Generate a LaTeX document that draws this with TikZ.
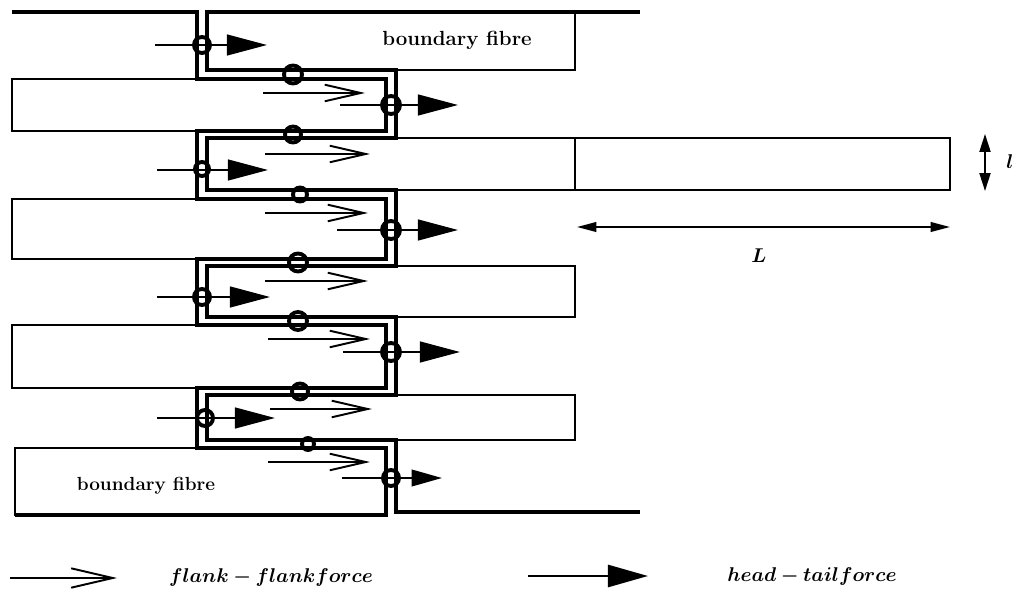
\documentclass[tikz,border=0pt]{standalone}
\usepackage{bm}
\usetikzlibrary{arrows.meta}
\begin{document}
\begin{tikzpicture}[x=0.254mm,y=-0.254mm,
  fibre/.style={line width=1.3pt},
  wall/.style={line width=2.8pt, line join=miter},
  ring/.style={line width=2.8pt},
  httip/.style={-{Triangle[length=29pt,width=15pt]}, line width=1.6pt},
  httipsmall/.style={-{Triangle[length=22pt,width=12pt]}, line width=1.6pt},
  fftip/.style={-{Straight Barb[length=26pt,width=12pt,line width=1.4pt]}, line width=1.3pt},
  dimarrow/.style={{Triangle[length=13pt,width=8pt]}-{Triangle[length=13pt,width=8pt]}, line width=1.3pt},
  labeltext/.style={inner sep=0pt, font=\fontsize{14.8}{17}\selectfont\bfseries},
  labeltextsmall/.style={inner sep=0pt, font=\fontsize{13.7}{16}\selectfont\bfseries},
  mathlabel/.style={inner sep=0pt, font=\fontsize{15}{18}\selectfont}
]
\useasboundingbox (0,0) rectangle (1016,602);

% fibres
\draw[fibre] (207,12) rectangle (575,70);
\draw[fibre] (12,79) rectangle (386,131);
\draw[fibre] (207,138) rectangle (575,190);
\draw[fibre] (575,138) rectangle (950,190);
\draw[fibre] (12,199) rectangle (386,259);
\draw[fibre] (207,266) rectangle (575,317);
\draw[fibre] (12,325) rectangle (386,388);
\draw[fibre] (207,395) rectangle (575,440);
\draw[fibre] (15,448) rectangle (386,515);

% walls of the channel
\draw[wall] (12,12) -- (197,12) -- (197,79) -- (386,79) -- (386,131) -- (197,131)
  -- (197,199) -- (386,199) -- (386,259) -- (197,259) -- (197,325) -- (386,325)
  -- (386,388) -- (197,388) -- (197,448) -- (386,448) -- (386,515) -- (15,515);
\draw[wall] (640,12) -- (207,12) -- (207,70) -- (396,70) -- (396,138) -- (207,138)
  -- (207,190) -- (396,190) -- (396,266) -- (207,266) -- (207,317) -- (396,317)
  -- (396,395) -- (207,395) -- (207,440) -- (396,440) -- (396,512) -- (640,512);

% head-tail forces
\draw[httip] (155,45) -- (267,45);
\draw[httip] (340,105) -- (458,105);
\draw[httip] (157,170) -- (268,170);
\draw[httip] (337,230) -- (458,230);
\draw[httip] (157,297) -- (270,297);
\draw[httip] (343,352) -- (460,352);
\draw[httip] (157,418) -- (275,418);
\draw[httipsmall] (342,478) -- (442,478);

% flank-flank forces
\draw[fftip] (263,93) -- (365,93);
\draw[fftip] (265,154) -- (370,154);
\draw[fftip] (265,213) -- (368,213);
\draw[fftip] (265,281) -- (368,281);
\draw[fftip] (268,339) -- (370,339);
\draw[fftip] (270,409) -- (372,409);
\draw[fftip] (268,462) -- (370,462);

% contact rings
\draw[ring] (202,45) circle[radius=8];
\draw[ring] (293,74.5) circle[radius=9];
\draw[ring] (391,105) circle[radius=9];
\draw[ring] (293,134.5) circle[radius=8];
\draw[ring] (202,169) circle[radius=7];
\draw[ring] (300,194.5) circle[radius=7];
\draw[ring] (391,230) circle[radius=9];
\draw[ring] (298,262.5) circle[radius=9];
\draw[ring] (202,297) circle[radius=8];
\draw[ring] (298,321) circle[radius=9];
\draw[ring] (391,352) circle[radius=9];
\draw[ring] (300,391.5) circle[radius=8];
\draw[ring] (205,418) circle[radius=8];
\draw[ring] (308,444) circle[radius=6];
\draw[ring] (391,478) circle[radius=8];

% labels
\node[labeltext] (bftop) at (457,40) {boundary fibre};
\node[labeltextsmall] (bfbot) at (146,486) {boundary fibre};

% dimensions
\coordinate (ltop) at (985,134);
\coordinate (lbot) at (985,191);
\draw[dimarrow] (ltop) -- (lbot);
\node[mathlabel, anchor=west] (lsmall) at (1006,162) {$\bm{l}$};
\coordinate (Lleft) at (577,227);
\coordinate (Lright) at (950,227);
\draw[{Triangle[length=14pt,width=7pt]}-{Triangle[length=14pt,width=7pt]}, line width=1.3pt] (Lleft) -- (Lright);
\node[mathlabel] (Lbig) at (759,256) {$\bm{L}$};

% legend
\coordinate (ffa) at (10,578);
\coordinate (ffb) at (117,578);
\draw[-{Straight Barb[length=30pt,width=14pt,line width=1.4pt]}, line width=1.4pt] (ffa) -- (ffb);
\node[mathlabel] (fflabel) at (271,578) {$\bm{flank-flankforce}$};
\coordinate (hta) at (528,576);
\coordinate (htb) at (648,576);
\draw[-{Triangle[length=29pt,width=16pt]}, line width=1.7pt] (hta) -- (htb);
\node[mathlabel] (htlabel) at (812,577) {$\bm{head-tailforce}$};
\end{tikzpicture}
\end{document}
